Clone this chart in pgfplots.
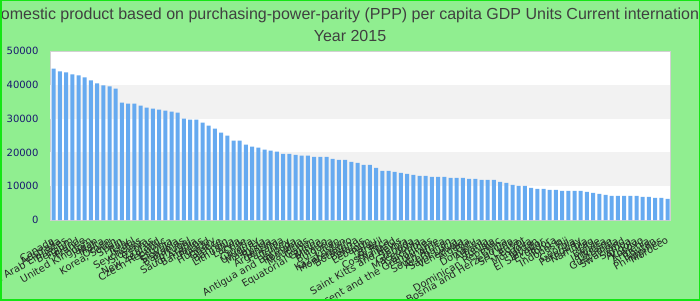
\documentclass[border=0pt]{standalone}
\usepackage{fontspec}
\setmainfont{DejaVu Sans}
\newfontfamily\titlefont{Liberation Sans}
\usepackage{pgfplots}
\pgfplotsset{compat=1.18}
\definecolor{bg}{RGB}{144,238,144}
\definecolor{framec}{RGB}{20,230,20}
\definecolor{barc}{RGB}{102,170,240}
\definecolor{band}{RGB}{242,242,242}
\definecolor{tickc}{RGB}{25,25,112}
\definecolor{titlec}{RGB}{64,64,64}
\begin{document}
\begin{tikzpicture}
\clip (0pt,0pt) rectangle (700pt,300pt);
\fill[bg] (0pt,0pt) rectangle (700pt,300pt);
\node[font=\titlefont\fontsize{16}{16}\selectfont, text=titlec] at (350pt,285pt) {Gross domestic product based on purchasing-power-parity (PPP) per capita GDP Units Current international dollar};
\node[font=\titlefont\fontsize{16}{16}\selectfont, text=titlec] at (350pt,264pt) {Year 2015};
\begin{axis}[
  at={(50pt,80pt)}, anchor=south west,
  width=620pt, height=169pt, scale only axis,
  xmin=-0.6, xmax=99.4, ymin=0, ymax=50000,
  axis background/.style={fill=white},
  axis line style={draw=black!18},
  ybar, bar width=4pt,
  xtick={0,...,99},
  xticklabels={Canada,Australia,United Arab Emirates,Belgium,Finland,France,United Kingdom,Japan,Malta,Oman,{Korea, South},Spain,Italy,Israel,Seychelles,Slovenia,Cyprus,New Zealand,Czech Republic,Estonia,Slovakia,Bahamas,Portugal,Saudi Arabia,Barbados,Poland,Hungary,Greece,Bahrain,Lithuania,Latvia,Chile,Croatia,Uruguay,Malaysia,Russia,Argentina,Panama,Turkey,Antigua and Barbuda,Romania,Mauritius,Gabon,Equatorial Guinea,Mexico,Bulgaria,Iran,Kazakhstan,Montenegro,Botswana,Belarus,Lebanon,Palau,Brazil,Costa Rica,Thailand,Saint Kitts and Nevis,Serbia,Grenada,Macedonia,Colombia,Saint Vincent and the Grenadines,Suriname,South Africa,Azerbaijan,Saint Lucia,Venezuela,Algeria,Peru,Dominica,Albania,Tunisia,Dominican Republic,China,Bosnia and Herzegovina,Sri Lanka,Egypt,Mongolia,Jordan,El Salvador,Ecuador,Tonga,Indonesia,Fiji,Georgia,Paraguay,Namibia,Iraq,Belize,Jamaica,Ukraine,Guatemala,Swaziland,Samoa,Angola,Kosovo,Armenia,Bhutan,Philippines,Morocco},
  xticklabel style={rotate=30, anchor=north east, font=\fontsize{10}{10}\selectfont, text=black!85, inner sep=1pt, yshift=-12pt, xshift=-9pt},
  ytick={0,10000,20000,30000,40000,50000},
  yticklabel style={text=tickc, font=\fontsize{10}{10}\selectfont, xshift=-8pt},
  /pgf/number format/assume math mode=true,
  /pgf/number format/1000 sep={},
  scaled y ticks=false,
  major tick length=0pt,
]
\fill[band] (axis cs:-0.6,10000) rectangle (axis cs:99.4,20000);
\fill[band] (axis cs:-0.6,30000) rectangle (axis cs:99.4,40000);
\addplot[fill=barc, draw=none] coordinates {
(0,44800) (1,43950) (2,43660) (3,43070) (4,42770) (5,42170) (6,41280) (7,40390) (8,39800) (9,39500)
(10,38900) (11,34750) (12,34450) (13,34450) (14,33860) (15,33260) (16,32970) (17,32670) (18,32370) (19,32080)
(20,31780) (21,30000) (22,29700) (23,29700) (24,28810) (25,27920) (26,27030) (27,25840) (28,24950) (29,23460)
(30,23460) (31,22280) (32,21680) (33,21380) (34,20790) (35,20490) (36,20200) (37,19600) (38,19600) (39,19300)
(40,19010) (41,19010) (42,18710) (43,18710) (44,18710) (45,18120) (46,17820) (47,17820) (48,17230) (49,16930)
(50,16340) (51,16340) (52,15440) (53,14550) (54,14550) (55,14260) (56,13960) (57,13660) (58,13370) (59,13070)
(60,13070) (61,12770) (62,12770) (63,12770) (64,12470) (65,12470) (66,12470) (67,12180) (68,12180) (69,11880)
(70,11880) (71,11880) (72,11290) (73,10990) (74,10400) (75,10100) (76,10100) (77,9500) (78,9210) (79,9210)
(80,8910) (81,8910) (82,8610) (83,8610) (84,8610) (85,8610) (86,8320) (87,8020) (88,7720) (89,7430)
(90,7130) (91,7130) (92,7130) (93,7130) (94,7130) (95,6830) (96,6830) (97,6530) (98,6530) (99,6240)
};
\end{axis}
\draw[framec, line width=3pt] (0pt,0pt) rectangle (700pt,300pt);
\end{tikzpicture}
\end{document}
